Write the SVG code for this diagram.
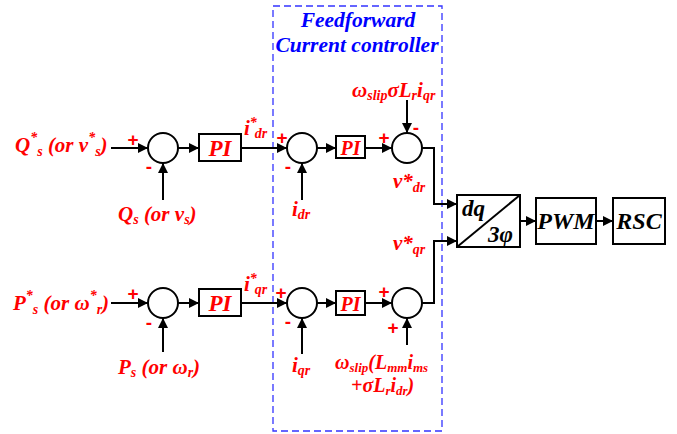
<svg xmlns="http://www.w3.org/2000/svg" width="677" height="434" viewBox="0 0 677 434">
<style>
.ln{stroke:#000;stroke-width:2;fill:none}
.ar{stroke:#000;stroke-width:2;fill:none;marker-end:url(#arr)}
.blk{stroke:#000;stroke-width:2;fill:#fff}
.lb{font-family:'Liberation Serif','Times New Roman',serif;font-weight:bold;font-style:italic;fill:#ff0000;font-size:21px}
.sg{font-family:'Liberation Sans',Arial,sans-serif;font-weight:bold;fill:#ff0000;font-size:19px}
.bt{font-family:'Liberation Serif','Times New Roman',serif;font-weight:bold;font-style:italic;fill:#000;font-size:24px}
.ti{font-family:'Liberation Serif','Times New Roman',serif;font-weight:bold;font-style:italic;fill:#0000ff;font-size:21.5px}
.sub{font-size:14px}
</style>
<defs>
<marker id="arr" viewBox="0 0 10 10" refX="10" refY="5" markerWidth="10" markerHeight="10" markerUnits="userSpaceOnUse" orient="auto">
<path d="M0,0 L10,5 L0,10 z" fill="#000"/>
</marker>
</defs>
<rect width="677" height="434" fill="#fff"/>
<g id="ffbox">
<rect x="273" y="6" width="169" height="425" fill="none" stroke="#3333ff" stroke-width="1.3" stroke-dasharray="7,4"/>
<text class="ti" x="358" y="27" text-anchor="middle">Feedforward</text>
<text class="ti" x="357" y="52" text-anchor="middle">Current controller</text>
</g>
<g id="connectors">
<line class="ar" x1="111" y1="148" x2="148" y2="148"/>
<line class="ar" x1="163" y1="200" x2="163" y2="163"/>
<line class="ar" x1="178" y1="148" x2="199" y2="148"/>
<line class="ar" x1="241" y1="148" x2="287" y2="148"/>
<line class="ar" x1="302" y1="200" x2="302" y2="163"/>
<line class="ar" x1="317" y1="148" x2="336" y2="148"/>
<line class="ar" x1="365" y1="148" x2="392" y2="148"/>
<line class="ar" x1="407" y1="100" x2="407" y2="133"/>
<polyline class="ar" points="422,148 434,148 434,204 457,204"/>
<line class="ar" x1="111" y1="303" x2="148" y2="303"/>
<line class="ar" x1="163" y1="352" x2="163" y2="318"/>
<line class="ar" x1="178" y1="303" x2="199" y2="303"/>
<line class="ar" x1="241" y1="303" x2="287" y2="303"/>
<line class="ar" x1="302" y1="354" x2="302" y2="318"/>
<line class="ar" x1="317" y1="303" x2="336" y2="303"/>
<line class="ar" x1="365" y1="303" x2="392" y2="303"/>
<line class="ar" x1="407" y1="345" x2="407" y2="318"/>
<polyline class="ar" points="422,303 434,303 434,241 457,241"/>
<line class="ar" x1="520" y1="221" x2="536" y2="221"/>
<line class="ar" x1="596" y1="221" x2="613" y2="221"/>
</g>
<g id="sum1"><circle class="blk" cx="163" cy="148" r="15"/></g>
<g id="pi1"><rect class="blk" x="199" y="134" width="42" height="27"/><text class="lb" x="220" y="156" text-anchor="middle" style="font-size:23px">PI</text></g>
<g id="sum2"><circle class="blk" cx="302" cy="148" r="15"/></g>
<g id="pi2"><rect class="blk" x="336" y="136" width="29" height="22"/><text class="lb" x="350.5" y="155" text-anchor="middle" style="font-size:20px">PI</text></g>
<g id="sum3"><circle class="blk" cx="407" cy="148" r="15"/></g>
<g id="sum1b"><circle class="blk" cx="163" cy="303" r="15"/></g>
<g id="pi1b"><rect class="blk" x="199" y="289" width="42" height="27"/><text class="lb" x="220" y="311" text-anchor="middle" style="font-size:23px">PI</text></g>
<g id="sum2b"><circle class="blk" cx="302" cy="303" r="15"/></g>
<g id="pi2b"><rect class="blk" x="336" y="291" width="29" height="24"/><text class="lb" x="350.5" y="311" text-anchor="middle" style="font-size:20px">PI</text></g>
<g id="sum3b"><circle class="blk" cx="407" cy="303" r="15"/></g>
<g id="dq">
<rect class="blk" x="457" y="195" width="63" height="52"/>
<line class="ln" x1="457" y1="247" x2="520" y2="195"/>
<text class="bt" x="462" y="216" style="font-size:23px">dq</text>
<text class="bt" x="488" y="242" style="font-size:23px">3φ</text>
</g>
<g id="pwm"><rect class="blk" x="536" y="198" width="60" height="46"/><text class="bt" x="566" y="229" text-anchor="middle">PWM</text></g>
<g id="rsc"><rect class="blk" x="613" y="198" width="52" height="46"/><text class="bt" x="639" y="229" text-anchor="middle">RSC</text></g>
<g id="labels">
<text class="lb" x="15" y="152">Q<tspan class="sub" dy="-10">*</tspan><tspan class="sub" dy="14">s</tspan><tspan dy="-4"> (or v</tspan><tspan class="sub" dy="-10">*</tspan><tspan class="sub" dy="14">s</tspan><tspan dy="-4">)</tspan></text>
<text class="lb" x="118" y="221">Q<tspan class="sub" dy="3">s</tspan><tspan dy="-3"> (or v</tspan><tspan class="sub" dy="3">s</tspan><tspan dy="-3">)</tspan></text>
<text class="lb" x="244" y="135">i<tspan class="sub" dy="-8">*</tspan><tspan class="sub" dx="-2" dy="11">dr</tspan></text>
<text class="lb" x="292" y="216">i<tspan class="sub" dy="3">dr</tspan></text>
<text class="lb" x="352" y="97">ω<tspan class="sub" dy="3">slip</tspan><tspan dy="-3">σL</tspan><tspan class="sub" dy="3">r</tspan><tspan dy="-3">i</tspan><tspan class="sub" dy="3">qr</tspan></text>
<text class="lb" x="393" y="188">v*<tspan class="sub" dy="4">dr</tspan></text>
<text class="lb" x="393" y="250">v*<tspan class="sub" dy="4">qr</tspan></text>
<text class="lb" x="13" y="310">P<tspan class="sub" dy="-10">*</tspan><tspan class="sub" dy="14">s</tspan><tspan dy="-4"> (or ω</tspan><tspan class="sub" dy="-10">*</tspan><tspan class="sub" dy="14">r</tspan><tspan dy="-4">)</tspan></text>
<text class="lb" x="118" y="374">P<tspan class="sub" dy="3">s</tspan><tspan dy="-3"> (or ω</tspan><tspan class="sub" dy="3">r</tspan><tspan dy="-3">)</tspan></text>
<text class="lb" x="244" y="291">i<tspan class="sub" dy="-8">*</tspan><tspan class="sub" dx="-2" dy="11">qr</tspan></text>
<text class="lb" x="292" y="372">i<tspan class="sub" dy="3">qr</tspan></text>
<text class="lb" x="335" y="369" style="font-size:20px">ω<tspan class="sub" dy="3" style="font-size:13px">slip</tspan><tspan dy="-3">(L</tspan><tspan class="sub" dy="3" style="font-size:13px">mm</tspan><tspan dy="-3">i</tspan><tspan class="sub" dy="3" style="font-size:13px">ms</tspan></text>
<text class="lb" x="351" y="392" style="font-size:20px">+σL<tspan class="sub" dy="3" style="font-size:13px">r</tspan><tspan dy="-3">i</tspan><tspan class="sub" dy="3" style="font-size:13px">dr</tspan><tspan dy="-3">)</tspan></text>
<text class="sg" x="133" y="146" text-anchor="middle">+</text>
<text class="sg" x="149" y="173" text-anchor="middle">-</text>
<text class="sg" x="282" y="144" text-anchor="middle">+</text>
<text class="sg" x="288" y="173" text-anchor="middle">-</text>
<text class="sg" x="384" y="144" text-anchor="middle">+</text>
<text class="sg" x="416" y="134" text-anchor="middle">-</text>
<text class="sg" x="133" y="300" text-anchor="middle">+</text>
<text class="sg" x="149" y="329" text-anchor="middle">-</text>
<text class="sg" x="281" y="299" text-anchor="middle">+</text>
<text class="sg" x="288" y="328" text-anchor="middle">-</text>
<text class="sg" x="384" y="298" text-anchor="middle">+</text>
<text class="sg" x="393" y="334" text-anchor="middle">+</text>
</g>
</svg>
